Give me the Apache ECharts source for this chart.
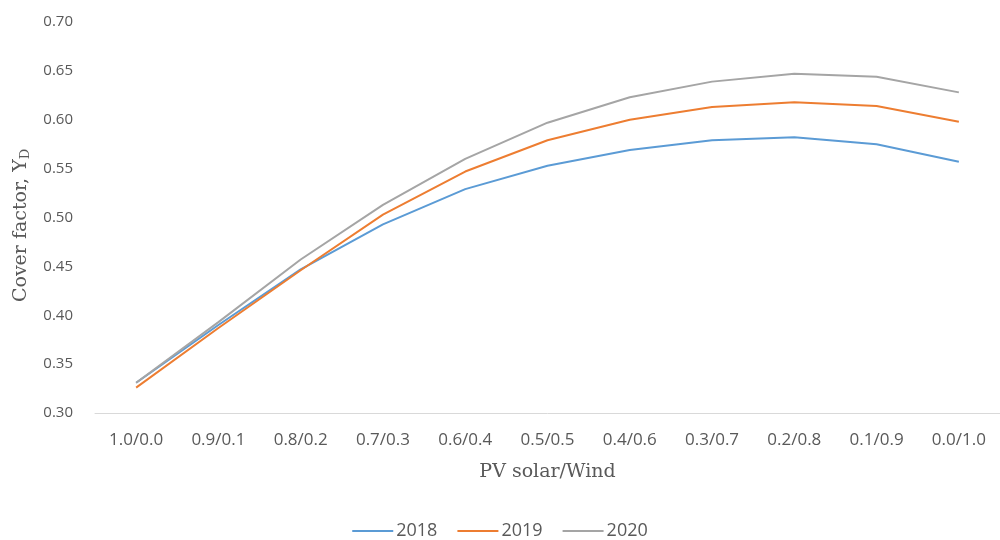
<!DOCTYPE html>
<html>
<head>
<meta charset="utf-8">
<script src="https://cdn.jsdelivr.net/npm/echarts@6/dist/echarts.min.js"></script>
<style>
  html, body { margin: 0; padding: 0; background: #fff; }
  #chart { width: 1000px; height: 540px; }
</style>
</head>
<body>
<div id="chart"></div>
<script>
// PV solar / wind share of the generation mix
const categories = ['1.0/0.0', '0.9/0.1', '0.8/0.2', '0.7/0.3', '0.6/0.4', '0.5/0.5',
                    '0.4/0.6', '0.3/0.7', '0.2/0.8', '0.1/0.9', '0.0/1.0'];

// Cover factor Y_D per year
const y2018 = [0.331, 0.390, 0.447, 0.493, 0.529, 0.553, 0.569, 0.579, 0.582, 0.575, 0.557];
const y2019 = [0.326, 0.387, 0.446, 0.503, 0.547, 0.579, 0.600, 0.613, 0.618, 0.614, 0.598];
const y2020 = [0.331, 0.393, 0.457, 0.513, 0.560, 0.597, 0.623, 0.639, 0.647, 0.644, 0.628];

const yTicks = { min: 0.30, max: 0.70, step: 0.05 };

const colors = ['#5B9BD5', '#ED7D31', '#A5A5A5'];
const labelFont = '"Open Sans", sans-serif';
const serifFont = '"DejaVu Serif", serif';

const chart = echarts.init(document.getElementById('chart'), null, { renderer: 'canvas' });

function lineSeries(name, data) {
  return {
    name: name,
    type: 'line',
    data: data,
    symbol: 'none',
    smooth: false,
    lineStyle: { width: 2 }
  };
}

chart.setOption({
  animation: false,
  color: colors,
  grid: { left: 95, right: -11, top: 22, bottom: 127, containLabel: false },
  legend: {
    bottom: -5,
    left: 'center',
    itemWidth: 41,
    itemHeight: 2,
    itemGap: 20,
    icon: 'rect',
    textStyle: { fontFamily: labelFont, fontSize: 18, color: '#595959', padding: [0, 0, 0, -2] },
    data: ['2018', '2019', '2020']
  },
  xAxis: {
    type: 'category',
    data: categories,
    boundaryGap: true,
    axisLine: { show: true, lineStyle: { color: '#D9D9D9', width: 1 } },
    axisTick: { show: false },
    axisLabel: { fontFamily: labelFont, fontSize: 17, color: '#595959', margin: 19 },
    name: 'PV solar/Wind',
    nameLocation: 'middle',
    nameGap: 50,
    nameTextStyle: { fontFamily: serifFont, fontSize: 19, color: '#595959' }
  },
  yAxis: {
    type: 'value',
    min: yTicks.min,
    max: yTicks.max,
    interval: yTicks.step,
    axisLine: { show: false },
    axisTick: { show: false },
    splitLine: { show: false },
    axisLabel: {
      fontFamily: labelFont,
      fontSize: 15,
      color: '#595959',
      margin: 22,
      formatter: v => v.toFixed(2)
    },
    name: '{main|Cover factor, Y}{sub|D}',
    nameLocation: 'middle',
    nameGap: 62,
    nameRotate: 90,
    nameTextStyle: {
      padding: [0, 16, 0, 0],
      rich: {
        main: { fontFamily: serifFont, fontSize: 19, color: '#595959' },
        sub: { fontFamily: serifFont, fontSize: 13, color: '#595959', verticalAlign: 'bottom', padding: [10, 0, 0, 0] }
      }
    }
  },
  series: [
    lineSeries('2018', y2018),
    lineSeries('2019', y2019),
    lineSeries('2020', y2020)
  ]
});
</script>
</body>
</html>
